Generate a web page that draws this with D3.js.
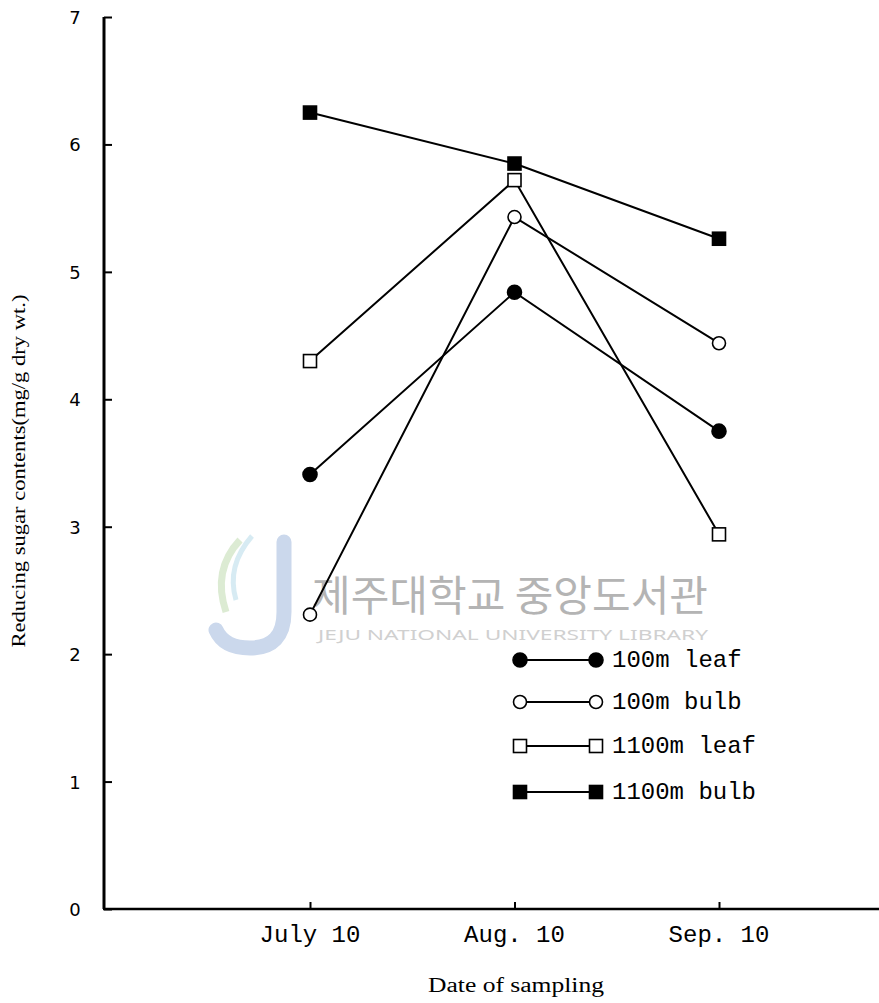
<!DOCTYPE html>
<html>
<head>
<meta charset="utf-8">
<script src="https://cdn.jsdelivr.net/npm/d3@7"></script>
<style>
  body { margin: 0; background: #fff; }
  svg { display: block; }
</style>
</head>
<body>
<div id="chart"></div>
<script>
// values
const dates = ["July 10", "Aug. 10", "Sep. 10"];
const leaf100 = [3.41, 4.84, 3.75];
const bulb100 = [2.31, 5.43, 4.44];
const leaf1100 = [4.30, 5.72, 2.94];
const bulb1100 = [6.25, 5.85, 5.26];
const yTicks = [0, 1, 2, 3, 4, 5, 6, 7];
const seriesNames = ["100m leaf", "100m bulb", "1100m leaf", "1100m bulb"];

const W = 879, H = 1003;
const svg = d3.select("#chart").append("svg").attr("width", W).attr("height", H);
svg.append("rect").attr("width", W).attr("height", H).attr("fill", "#fff");

const x = d3.scalePoint().domain(dates).range([310, 719]);
const y = d3.scaleLinear().domain([0, 7]).range([909, 17]);

// watermark (library stamp)
const wm = svg.append("g");
wm.append("path").attr("d", "M284,542 L284,612 Q284,648 250,648 Q224,648 216,630")
  .attr("fill", "none").attr("stroke", "#cbd8ec").attr("stroke-width", 15).attr("stroke-linecap", "round");
wm.append("path").attr("d", "M240,540 Q212,570 226,612").attr("fill", "none").attr("stroke", "#dcebd3").attr("stroke-width", 7);
wm.append("path").attr("d", "M252,536 Q226,566 236,600").attr("fill", "none").attr("stroke", "#d7ebf3").attr("stroke-width", 5);
wm.append("text").attr("x", 312).attr("y", 611).attr("textLength", 396).attr("lengthAdjust", "spacingAndGlyphs")
  .attr("font-family", "Noto Sans CJK KR").attr("font-size", 42).attr("fill", "#b4b4b4").text("제주대학교 중앙도서관");
wm.append("text").attr("x", 318).attr("y", 640).attr("textLength", 390).attr("lengthAdjust", "spacingAndGlyphs")
  .attr("font-family", "Noto Sans").attr("font-size", 15).attr("fill", "#d0d0d0").text("JEJU NATIONAL UNIVERSITY  LIBRARY");

// y axis
const yAxis = d3.axisRight(y).tickValues(yTicks).tickSize(8).tickFormat("");
const gy = svg.append("g").attr("transform", "translate(104,0)").call(yAxis);
gy.select(".domain").attr("d", `M0,${y(7)}V${y(0)}`).attr("stroke", "#000").attr("stroke-width", 3);
gy.selectAll(".tick line").attr("stroke", "#000").attr("stroke-width", 2);

svg.append("g").selectAll("text").data(yTicks).enter().append("text")
  .attr("x", 75).attr("y", d => y(d) + 7)
  .attr("text-anchor", "middle")
  .attr("font-family", "DejaVu Sans").attr("font-size", 18)
  .text(d => d);

// x axis
const xAxis = d3.axisTop(x).tickSize(7).tickFormat("");
const gx = svg.append("g").attr("transform", `translate(0,${y(0)})`).call(xAxis);
gx.select(".domain").attr("d", "M103,0H879").attr("stroke", "#000").attr("stroke-width", 2.5);
gx.selectAll(".tick line").attr("stroke", "#000").attr("stroke-width", 2);

svg.append("g").selectAll("text").data(dates).enter().append("text")
  .attr("x", d => x(d)).attr("y", 942)
  .attr("text-anchor", "middle")
  .attr("font-family", "Liberation Mono").attr("font-size", 24)
  .text(d => d);

// axis titles
svg.append("text").attr("transform", "translate(25,471) rotate(-90)")
  .attr("text-anchor", "middle").attr("textLength", 353).attr("lengthAdjust", "spacingAndGlyphs")
  .attr("font-family", "Liberation Serif").attr("font-size", 19)
  .text("Reducing sugar contents(mg/g dry wt.)");

svg.append("text").attr("x", 516).attr("y", 992)
  .attr("text-anchor", "middle").attr("textLength", 176).attr("lengthAdjust", "spacingAndGlyphs")
  .attr("font-family", "Liberation Serif").attr("font-size", 20)
  .text("Date of sampling");

// series
const series = [
  { name: seriesNames[0], values: leaf100, shape: "circle", fill: "#000", size: 7 },
  { name: seriesNames[1], values: bulb100, shape: "circle", fill: "#fff", size: 6.5 },
  { name: seriesNames[2], values: leaf1100, shape: "square", fill: "#fff", size: 13 },
  { name: seriesNames[3], values: bulb1100, shape: "square", fill: "#000", size: 13 }
];

const line = d3.line().x((d, i) => x(dates[i])).y(d => y(d));

series.forEach(s => {
  svg.append("path").datum(s.values).attr("d", line)
    .attr("fill", "none").attr("stroke", "#000").attr("stroke-width", 2);
});

function drawMarker(g, s, cx, cy) {
  if (s.shape === "circle") {
    g.append("circle").attr("cx", cx).attr("cy", cy).attr("r", s.size)
      .attr("fill", s.fill).attr("stroke", "#000").attr("stroke-width", 1.6);
  } else {
    g.append("rect").attr("x", cx - s.size / 2).attr("y", cy - s.size / 2)
      .attr("width", s.size).attr("height", s.size)
      .attr("fill", s.fill).attr("stroke", "#000").attr("stroke-width", 1.6);
  }
}

const marks = svg.append("g");
series.forEach(s => {
  s.values.forEach((v, i) => drawMarker(marks, s, x(dates[i]), y(v)));
});

// legend
const legendY = [660, 702, 746, 792];
const legend = svg.append("g");
series.forEach((s, i) => {
  const ly = legendY[i];
  legend.append("line").attr("x1", 520).attr("x2", 596).attr("y1", ly).attr("y2", ly)
    .attr("stroke", "#000").attr("stroke-width", 2);
  drawMarker(legend, s, 520, ly);
  drawMarker(legend, s, 596, ly);
  legend.append("text").attr("x", 612).attr("y", ly + 7)
    .attr("font-family", "Liberation Mono").attr("font-size", 24)
    .text(s.name);
});
</script>
</body>
</html>
